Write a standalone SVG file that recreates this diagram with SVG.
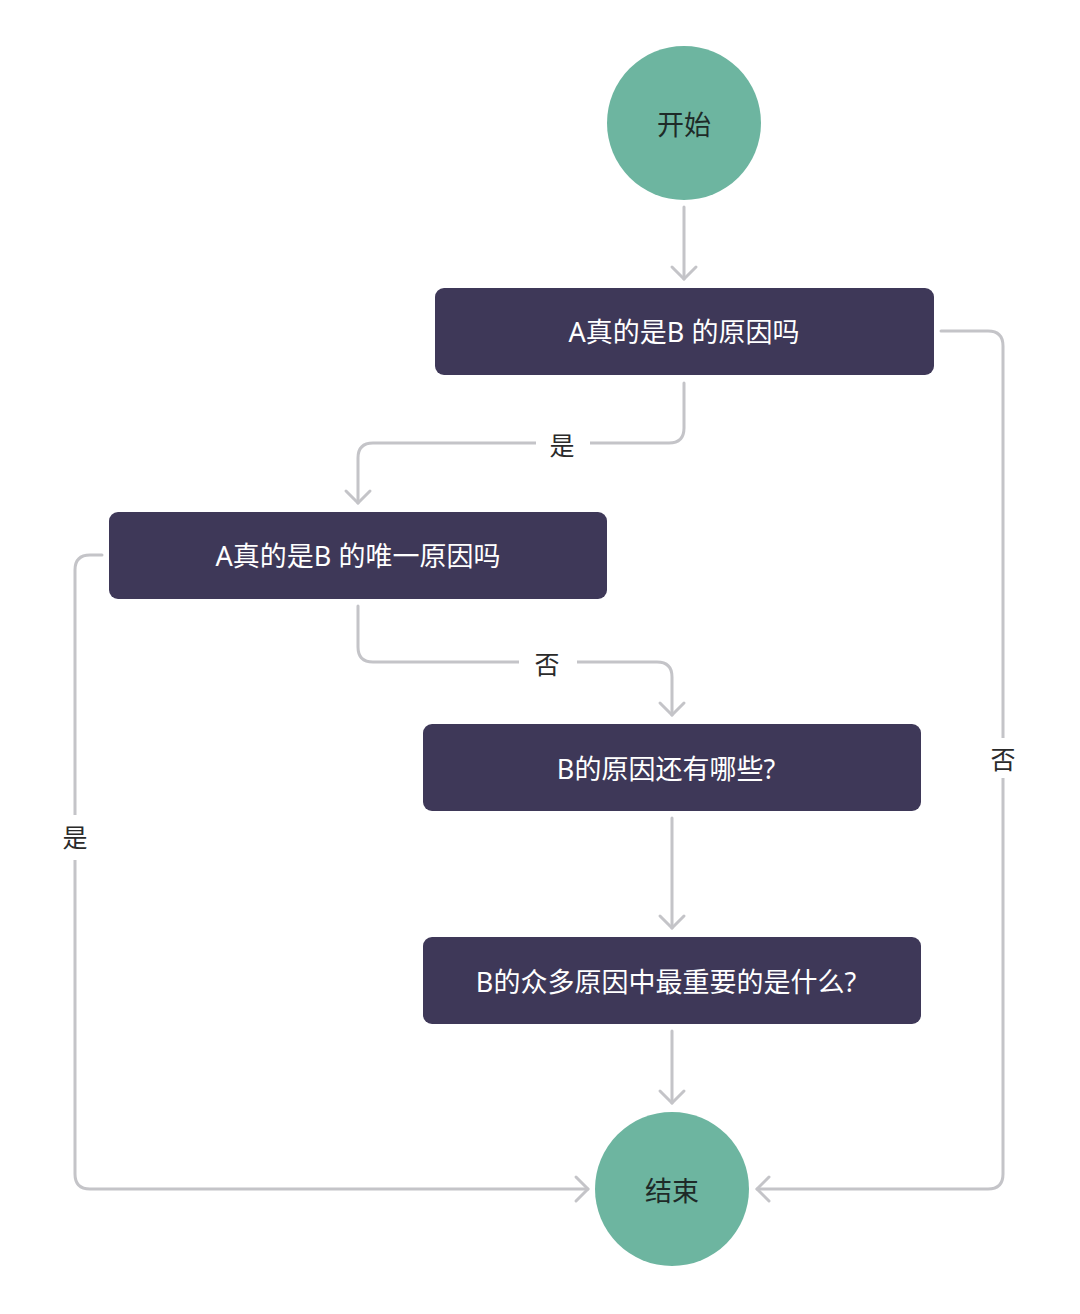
<svg xmlns="http://www.w3.org/2000/svg" width="1080" height="1314" viewBox="0 0 1080 1314">
<style>
.term{fill:#6db5a0}
.box{fill:#3e3858}
.conn{fill:none;stroke:#c4c4c8;stroke-width:3;stroke-linecap:round;stroke-linejoin:round}
.tl{font-family:"Noto Sans","Noto Sans CJK SC",sans-serif;font-size:27px;text-anchor:middle;dominant-baseline:central}
.tw{fill:#ffffff}
.td{fill:#1e2a28}
.el{font-family:"Noto Sans CJK SC",sans-serif;font-size:25px;fill:#2a2a2a;text-anchor:middle;dominant-baseline:central}
.bg{fill:#ffffff}
</style>
<defs>
<marker id="arr" markerUnits="userSpaceOnUse" markerWidth="18" markerHeight="30" viewBox="0 0 18 30" refX="15" refY="15" orient="auto">
<path d="M3,3 L15,15 L3,27" fill="none" stroke="#c4c4c8" stroke-width="3" stroke-linecap="round" stroke-linejoin="round"/>
</marker>
</defs>
<rect width="1080" height="1314" fill="#ffffff"/>
<g id="connectors">
<path class="conn" d="M684,207 V279" marker-end="url(#arr)"/>
<path class="conn" d="M684,383 V428 Q684,443 669,443 H373 Q358,443 358,458 V503" marker-end="url(#arr)"/>
<path class="conn" d="M941,331 H988 Q1003,331 1003,346 V1174 Q1003,1189 988,1189 H757" marker-end="url(#arr)"/>
<path class="conn" d="M102,555 H90 Q75,555 75,570 V1174 Q75,1189 90,1189 H588" marker-end="url(#arr)"/>
<path class="conn" d="M358,606 V647 Q358,662 373,662 H657 Q672,662 672,677 V715" marker-end="url(#arr)"/>
<path class="conn" d="M672,818 V928" marker-end="url(#arr)"/>
<path class="conn" d="M672,1031 V1103" marker-end="url(#arr)"/>
<rect class="bg" x="536" y="428" width="54" height="32"/>
<text class="el" x="562" y="444">是</text>
<rect class="bg" x="519" y="647" width="58" height="32"/>
<text class="el" x="547" y="663">否</text>
<rect class="bg" x="60" y="815" width="30" height="45"/>
<text class="el" x="75" y="836">是</text>
<rect class="bg" x="988" y="738" width="30" height="40"/>
<text class="el" x="1003" y="758">否</text>
</g>
<g id="start">
<circle class="term" cx="684" cy="123" r="77"/>
<text class="tl td" x="684" y="124">开始</text>
</g>
<g id="q1">
<rect class="box" x="435" y="288" width="499" height="87" rx="9"/>
<text class="tl tw" x="684" y="331">A真的是B 的原因吗</text>
</g>
<g id="q2">
<rect class="box" x="109" y="512" width="498" height="87" rx="9"/>
<text class="tl tw" x="358" y="555">A真的是B 的唯一原因吗</text>
</g>
<g id="q3">
<rect class="box" x="423" y="724" width="498" height="87" rx="9"/>
<text class="tl tw" x="666" y="768">B的原因还有哪些?</text>
</g>
<g id="q4">
<rect class="box" x="423" y="937" width="498" height="87" rx="9"/>
<text class="tl tw" x="666" y="981">B的众多原因中最重要的是什么?</text>
</g>
<g id="end">
<circle class="term" cx="672" cy="1189" r="77"/>
<text class="tl td" x="672" y="1190">结束</text>
</g>
</svg>
